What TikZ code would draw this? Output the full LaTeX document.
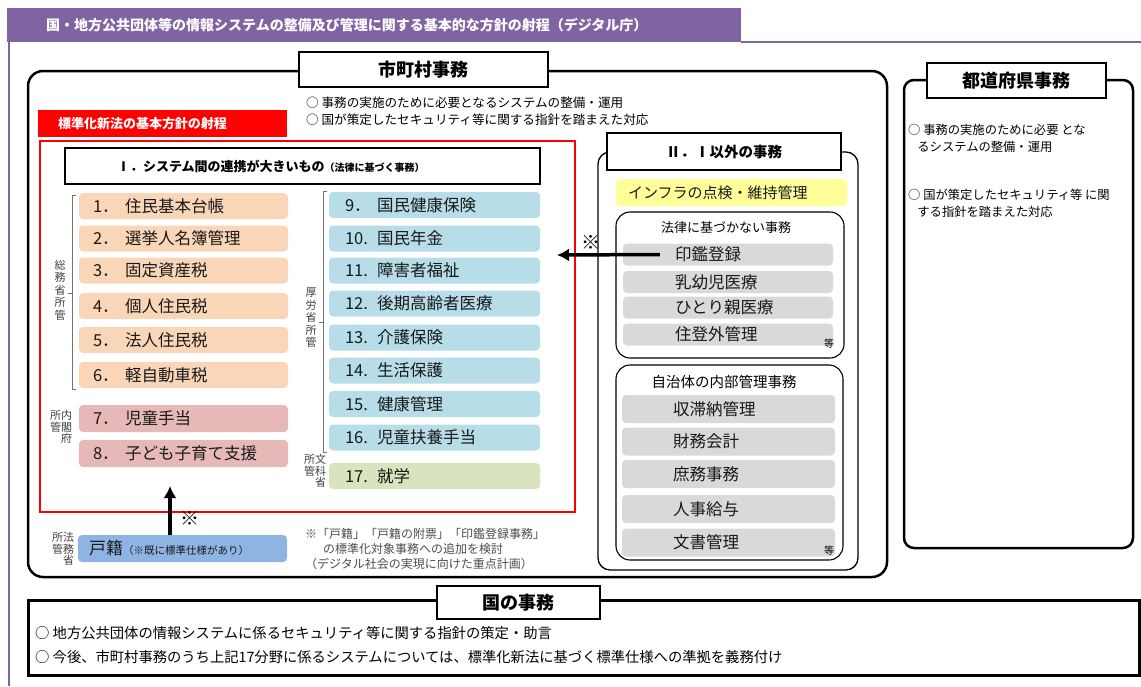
\documentclass[tikz,border=0pt]{standalone}
\usepackage{fontspec}
\setmainfont{Noto Sans CJK JP}
\usetikzlibrary{arrows.meta}
\newcommand{\fsz}[1]{\fontsize{#1}{#1}\selectfont}
\newcommand{\nb}[1]{\makebox[1.95em][l]{#1}}
\definecolor{hdrpurple}{RGB}{128,100,162}
\definecolor{peach}{RGB}{250,214,184}
\definecolor{rosy}{RGB}{230,185,184}
\definecolor{skyblue}{RGB}{183,221,232}
\definecolor{sage}{RGB}{215,228,189}
\definecolor{koseki}{RGB}{141,180,226}
\definecolor{greybox}{RGB}{217,217,217}
\definecolor{infra}{RGB}{255,255,153}
\tikzset{
  titlebox/.style={draw, line width=2.8pt, fill=white, inner sep=0, font=\bfseries\fsz{18}},
  subtitle/.style={draw, line width=2.4pt, fill=white, inner sep=0},
  task/.style={rounded corners=4pt, minimum height=26, inner ysep=0, font=\fsz{16.5}, align=left, text=black!90},
  soumu/.style={task, fill=peach, text width=181, inner xsep=14},
  naikaku/.style={task, fill=rosy, text width=181, inner xsep=14, minimum height=27},
  kourou/.style={task, fill=skyblue, text width=179, inner xsep=16},
  monka/.style={task, fill=sage, text width=179, inner xsep=16},
  greyA/.style={task, fill=greybox, text width=106, inner xsep=52, minimum height=22},
  greyB/.style={task, fill=greybox, text width=111, inner xsep=51, minimum height=28},
  vlabel/.style={font=\fontsize{11}{12.5}\selectfont, align=center, inner sep=0, text=black!75},
  vlabel2/.style={font=\fontsize{11}{11.5}\selectfont, align=left, inner sep=0, text=black!75},
  brace/.style={draw=black!55, line width=0.8pt},
  bigarrow/.style={line width=3.5pt, -{Latex[length=12pt,width=13pt]}},
  bullet/.style={anchor=west, inner sep=0, align=left},
  etc/.style={font=\fsz{10}, inner sep=0}
}

\begin{document}
\begin{tikzpicture}[x=1pt,y=-1pt]
  \useasboundingbox (0,0) rectangle (1141,686);
  % header
  \fill[hdrpurple] (7,8) rectangle (741,42);
  \draw[hdrpurple, line width=2.5pt] (741,42) -- (1141,42);
  \draw[hdrpurple, line width=2.5pt] (9,42) -- (9,686);
  \node[anchor=west, inner sep=0, text=white, font=\bfseries\fsz{14}] (hdr) at (46,25)
    {国・地方公共団体等の情報システムの整備及び管理に関する基本的な方針の射程（デジタル庁）};

  % municipal frame
  \draw[line width=2.5pt, rounded corners=15pt] (28,71) rectangle (887,577);
  \node[titlebox, minimum width=249, minimum height=35] (city) at (423.5,69.5) {市町村事務};
  \node[bullet, font=\fsz{12.6}] (cb1) at (306,103) {○ 事務の実施のために必要となるシステムの整備・運用};
  \node[bullet, font=\fsz{12.6}] (cb2) at (306,120) {○ 国が策定したセキュリティ等に関する指針を踏まえた対応};

  % scope of the new law
  \node[fill=red, minimum width=249, minimum height=27, inner sep=0, text width=209, inner xsep=20,
    align=left, text=white, font=\bfseries\fsz{13}] (scope) at (162.5,123.5) {標準化新法の基本方針の射程};
  \draw[red, line width=2.5pt] (40,141) rectangle (575,512);
  \node[subtitle, minimum width=475, minimum height=36, text width=371, inner xsep=52, align=left] (sec1) at (302.5,166)
    {{\bfseries\fsz{13}Ⅰ．システム間の連携が大きいもの}{\bfseries\fsz{10}（法律に基づく事務）}};

  \node[soumu] (s1) at (183.5,206) {\nb{1．}住民基本台帳};
  \node[soumu] (s2) at (183.5,238.5) {\nb{2．}選挙人名簿管理};
  \node[soumu] (s3) at (183.5,270.5) {\nb{3．}固定資産税};
  \node[soumu] (s4) at (183.5,306) {\nb{4．}個人住民税};
  \node[soumu] (s5) at (183.5,340) {\nb{5．}法人住民税};
  \node[soumu] (s6) at (183.5,375) {\nb{6．}軽自動車税};
  \node[naikaku] (n7) at (183.5,418.5) {\nb{7．}児童手当};
  \node[naikaku] (n8) at (183.5,453.5) {\nb{8．}子ども子育て支援};

  \node[kourou] (k9) at (434.5,205) {\nb{9．}国民健康保険};
  \node[kourou] (k10) at (434.5,238.5) {\nb{10.}国民年金};
  \node[kourou] (k11) at (434.5,270.5) {\nb{11.}障害者福祉};
  \node[kourou] (k12) at (434.5,303.5) {\nb{12.}後期高齢者医療};
  \node[kourou] (k13) at (434.5,337.5) {\nb{13.}介護保険};
  \node[kourou] (k14) at (434.5,370.5) {\nb{14.}生活保護};
  \node[kourou] (k15) at (434.5,404) {\nb{15.}健康管理};
  \node[kourou] (k16) at (434.5,437.5) {\nb{16.}児童扶養手当};
  \node[monka] (m17) at (434.5,476) {\nb{17.}就学};

  % ministries
  \draw[brace] (76,195) -- (72,195) -- (72,389) -- (76,389) (72,293) -- (68,293);
  \node[vlabel] (soumulbl) at (60,290) {総\\務\\省\\所\\管};
  \draw[brace] (327,191) -- (323,191) -- (323,452) -- (327,452) (323,322) -- (319,322);
  \node[vlabel] (kouroulbl) at (311,318) {厚\\労\\省\\所\\管};
  \node[vlabel2] (naikakulbl) at (61,427) {所内\\管閣\\　府};
  \node[vlabel2] (monkalbl) at (315,471) {所文\\管科\\　省};
  \node[vlabel2] (houmulbl) at (63,549) {所法\\管務\\　省};

  % family register
  \node[task, fill=koseki, text width=187, inner xsep=11, minimum height=27] (kosekibox) at (182.5,548.5)
    {{\fsz{17}戸籍}{\fsz{10.5}（※既に標準仕様があり）}};
  \coordinate (uptip) at (170,486);
  \draw[bigarrow] (kosekibox.north -| uptip) -- (uptip);
  \node[font=\fsz{19}, inner sep=0] (mark1) at (190,518) {※};
  \node[anchor=north west, inner sep=0, align=left, text=black!70, font=\fontsize{12}{15}\selectfont] (note) at (305,528)
    {※「戸籍」「戸籍の附票」「印鑑登録事務」\\\hspace*{1.5em}の標準化対象事務への追加を検討\\（デジタル社会の実現に向けた重点計画）};

  % other tasks
  \draw[line width=1.3pt, rounded corners=12pt] (598,152) rectangle (858,570);
  \node[subtitle, minimum width=234, minimum height=37, font=\bfseries\fsz{14.5}] (sec2) at (724,151.5) {Ⅱ．Ⅰ以外の事務};
  \node[task, fill=infra, text width=207, inner xsep=12, minimum height=27, font=\fsz{15}] (infrabox) at (731.5,192.5) {インフラの点検・維持管理};

  \draw[line width=1.1pt, rounded corners=14pt] (616,212) rectangle (844,358);
  \node[font=\fsz{13}, inner sep=0] (nolaw) at (726,228) {法律に基づかない事務};
  \node[greyA] (inkan) at (728,254.5) {印鑑登録};
  \node[greyA] (nyuyoji) at (728,282) {乳幼児医療};
  \node[greyA] (hitori) at (728,307.5) {ひとり親医療};
  \node[greyA] (jutougai) at (728,334.5) {住登外管理};
  \node[etc] (etc1) at (829,344) {等};

  \draw[line width=1.1pt, rounded corners=14pt] (616,365) rectangle (843,560);
  \node[font=\fsz{14.5}, inner sep=0] (internal) at (724,382) {自治体の内部管理事務};
  \node[greyB] (shutai) at (728.5,409) {収滞納管理};
  \node[greyB] (zaimu) at (728.5,441.5) {財務会計};
  \node[greyB] (shomu) at (728.5,474) {庶務事務};
  \node[greyB] (jinji) at (728.5,509) {人事給与};
  \node[greyB] (bunsho) at (728.5,542.5) {文書管理};
  \node[etc] (etc2) at (829,551) {等};

  \coordinate (lefttip) at (557,255);
  \draw[bigarrow] ([xshift=37pt]inkan.west) -- (lefttip);
  \node[font=\fsz{19}, inner sep=0] (mark2) at (591,242) {※};

  % prefectures
  \draw[line width=2.5pt, rounded corners=10pt] (904,80) rectangle (1133,548);
  \node[titlebox, minimum width=179, minimum height=35] (pref) at (1016.5,80.5) {都道府県事務};
  \node[bullet, font=\fontsize{12.3}{17}\selectfont] (pb1) at (908,138.5)
    {○ 事務の実施のために必要 とな\\\hspace*{0.75em}るシステムの整備・運用};
  \node[bullet, font=\fontsize{12.3}{17}\selectfont] (pb2) at (908,203.5)
    {○ 国が策定したセキュリティ等 に関\\\hspace*{0.75em}する指針を踏まえた対応};

  % national
  \draw[line width=3pt] (28,600) rectangle (1139,675);
  \node[titlebox, minimum width=163, minimum height=33] (nation) at (518.5,602.5) {国の事務};
  \node[bullet, font=\fsz{14.3}] (nb1) at (35,633) {○ 地方公共団体の情報システムに係るセキュリティ等に関する指針の策定・助言};
  \node[bullet, font=\fsz{14.3}] (nb2) at (35,657) {○ 今後、市町村事務のうち上記17分野に係るシステムについては、標準化新法に基づく標準仕様への準拠を義務付け};
\end{tikzpicture}
\end{document}
